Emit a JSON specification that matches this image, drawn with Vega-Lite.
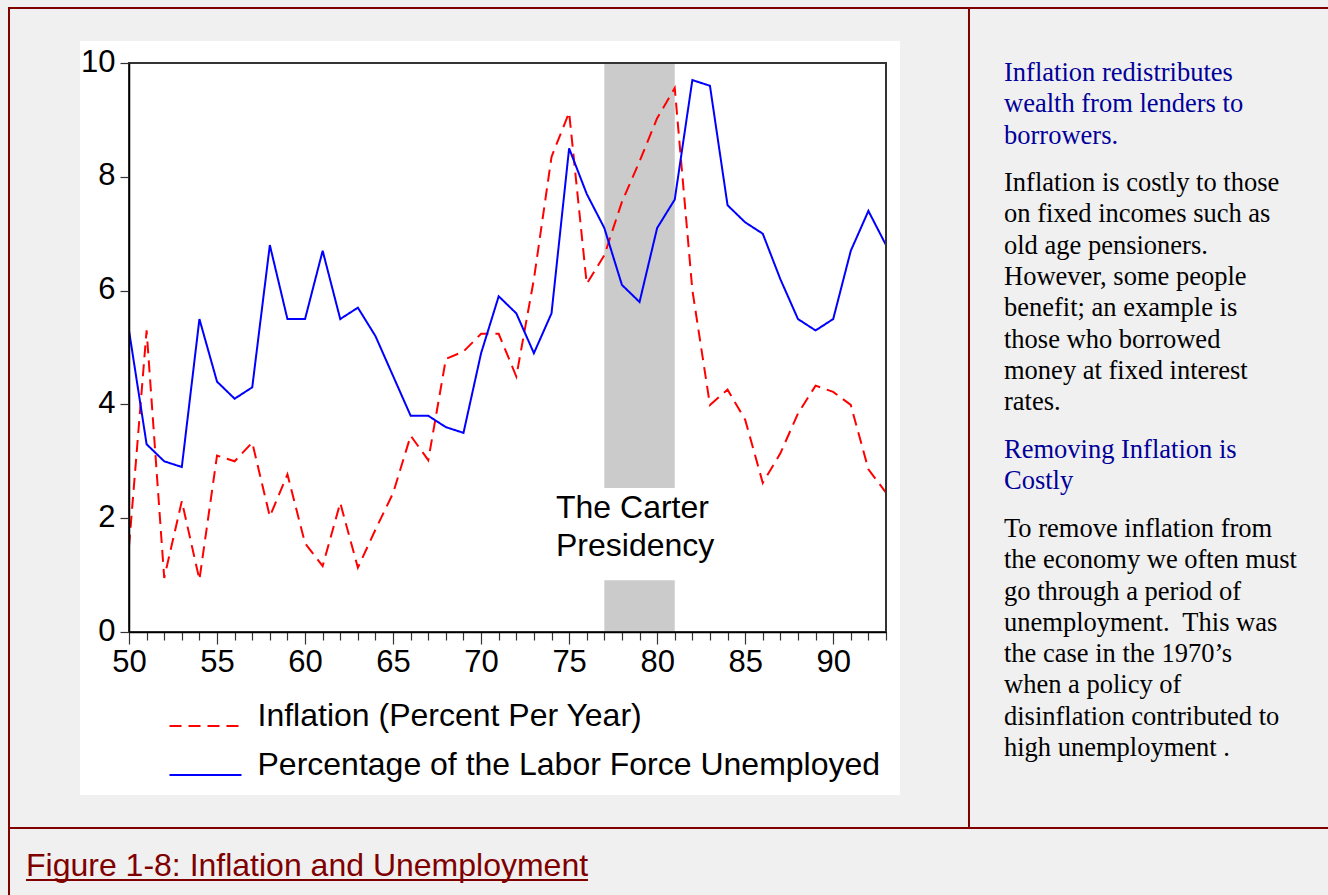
{
  "$schema": "https://vega.github.io/schema/vega-lite/v6.json",
  "width": 757,
  "height": 569,
  "autosize": {"type": "none"},
  "padding": {"left": 129, "top": 63, "right": 442, "bottom": 263},
  "background": "#f0f0f0",
  "config": {"view": {"stroke": null}},
  "resolve": {"axis": {"x": "independent", "y": "independent"}},
  "datasets": {
    "series": [
      {"year": 1950, "series": "Inflation (Percent Per Year)", "value": 1.5},
      {"year": 1951, "series": "Inflation (Percent Per Year)", "value": 5.3},
      {"year": 1952, "series": "Inflation (Percent Per Year)", "value": 0.95},
      {"year": 1953, "series": "Inflation (Percent Per Year)", "value": 2.3},
      {"year": 1954, "series": "Inflation (Percent Per Year)", "value": 0.92},
      {"year": 1955, "series": "Inflation (Percent Per Year)", "value": 3.1},
      {"year": 1956, "series": "Inflation (Percent Per Year)", "value": 3.0},
      {"year": 1957, "series": "Inflation (Percent Per Year)", "value": 3.33},
      {"year": 1958, "series": "Inflation (Percent Per Year)", "value": 2.03},
      {"year": 1959, "series": "Inflation (Percent Per Year)", "value": 2.77},
      {"year": 1960, "series": "Inflation (Percent Per Year)", "value": 1.56},
      {"year": 1961, "series": "Inflation (Percent Per Year)", "value": 1.16},
      {"year": 1962, "series": "Inflation (Percent Per Year)", "value": 2.27},
      {"year": 1963, "series": "Inflation (Percent Per Year)", "value": 1.13},
      {"year": 1964, "series": "Inflation (Percent Per Year)", "value": 1.8},
      {"year": 1965, "series": "Inflation (Percent Per Year)", "value": 2.44},
      {"year": 1966, "series": "Inflation (Percent Per Year)", "value": 3.45},
      {"year": 1967, "series": "Inflation (Percent Per Year)", "value": 3.02},
      {"year": 1968, "series": "Inflation (Percent Per Year)", "value": 4.8},
      {"year": 1969, "series": "Inflation (Percent Per Year)", "value": 4.93},
      {"year": 1970, "series": "Inflation (Percent Per Year)", "value": 5.24},
      {"year": 1971, "series": "Inflation (Percent Per Year)", "value": 5.24},
      {"year": 1972, "series": "Inflation (Percent Per Year)", "value": 4.49},
      {"year": 1973, "series": "Inflation (Percent Per Year)", "value": 6.2},
      {"year": 1974, "series": "Inflation (Percent Per Year)", "value": 8.35},
      {"year": 1975, "series": "Inflation (Percent Per Year)", "value": 9.13},
      {"year": 1976, "series": "Inflation (Percent Per Year)", "value": 6.12},
      {"year": 1977, "series": "Inflation (Percent Per Year)", "value": 6.62},
      {"year": 1978, "series": "Inflation (Percent Per Year)", "value": 7.56},
      {"year": 1979, "series": "Inflation (Percent Per Year)", "value": 8.27},
      {"year": 1980, "series": "Inflation (Percent Per Year)", "value": 9.03},
      {"year": 1981, "series": "Inflation (Percent Per Year)", "value": 9.56},
      {"year": 1982, "series": "Inflation (Percent Per Year)", "value": 6.01},
      {"year": 1983, "series": "Inflation (Percent Per Year)", "value": 3.99},
      {"year": 1984, "series": "Inflation (Percent Per Year)", "value": 4.26},
      {"year": 1985, "series": "Inflation (Percent Per Year)", "value": 3.73},
      {"year": 1986, "series": "Inflation (Percent Per Year)", "value": 2.62},
      {"year": 1987, "series": "Inflation (Percent Per Year)", "value": 3.14},
      {"year": 1988, "series": "Inflation (Percent Per Year)", "value": 3.84},
      {"year": 1989, "series": "Inflation (Percent Per Year)", "value": 4.33},
      {"year": 1990, "series": "Inflation (Percent Per Year)", "value": 4.22},
      {"year": 1991, "series": "Inflation (Percent Per Year)", "value": 3.99},
      {"year": 1992, "series": "Inflation (Percent Per Year)", "value": 2.86},
      {"year": 1993, "series": "Inflation (Percent Per Year)", "value": 2.45},
      {"year": 1950, "series": "Percentage of the Labor Force Unemployed", "value": 5.3},
      {"year": 1951, "series": "Percentage of the Labor Force Unemployed", "value": 3.3},
      {"year": 1952, "series": "Percentage of the Labor Force Unemployed", "value": 3.0},
      {"year": 1953, "series": "Percentage of the Labor Force Unemployed", "value": 2.9},
      {"year": 1954, "series": "Percentage of the Labor Force Unemployed", "value": 5.5},
      {"year": 1955, "series": "Percentage of the Labor Force Unemployed", "value": 4.4},
      {"year": 1956, "series": "Percentage of the Labor Force Unemployed", "value": 4.1},
      {"year": 1957, "series": "Percentage of the Labor Force Unemployed", "value": 4.3},
      {"year": 1958, "series": "Percentage of the Labor Force Unemployed", "value": 6.8},
      {"year": 1959, "series": "Percentage of the Labor Force Unemployed", "value": 5.5},
      {"year": 1960, "series": "Percentage of the Labor Force Unemployed", "value": 5.5},
      {"year": 1961, "series": "Percentage of the Labor Force Unemployed", "value": 6.7},
      {"year": 1962, "series": "Percentage of the Labor Force Unemployed", "value": 5.5},
      {"year": 1963, "series": "Percentage of the Labor Force Unemployed", "value": 5.7},
      {"year": 1964, "series": "Percentage of the Labor Force Unemployed", "value": 5.2},
      {"year": 1965, "series": "Percentage of the Labor Force Unemployed", "value": 4.5},
      {"year": 1966, "series": "Percentage of the Labor Force Unemployed", "value": 3.8},
      {"year": 1967, "series": "Percentage of the Labor Force Unemployed", "value": 3.8},
      {"year": 1968, "series": "Percentage of the Labor Force Unemployed", "value": 3.6},
      {"year": 1969, "series": "Percentage of the Labor Force Unemployed", "value": 3.5},
      {"year": 1970, "series": "Percentage of the Labor Force Unemployed", "value": 4.9},
      {"year": 1971, "series": "Percentage of the Labor Force Unemployed", "value": 5.9},
      {"year": 1972, "series": "Percentage of the Labor Force Unemployed", "value": 5.6},
      {"year": 1973, "series": "Percentage of the Labor Force Unemployed", "value": 4.9},
      {"year": 1974, "series": "Percentage of the Labor Force Unemployed", "value": 5.6},
      {"year": 1975, "series": "Percentage of the Labor Force Unemployed", "value": 8.5},
      {"year": 1976, "series": "Percentage of the Labor Force Unemployed", "value": 7.7},
      {"year": 1977, "series": "Percentage of the Labor Force Unemployed", "value": 7.1},
      {"year": 1978, "series": "Percentage of the Labor Force Unemployed", "value": 6.1},
      {"year": 1979, "series": "Percentage of the Labor Force Unemployed", "value": 5.8},
      {"year": 1980, "series": "Percentage of the Labor Force Unemployed", "value": 7.1},
      {"year": 1981, "series": "Percentage of the Labor Force Unemployed", "value": 7.6},
      {"year": 1982, "series": "Percentage of the Labor Force Unemployed", "value": 9.7},
      {"year": 1983, "series": "Percentage of the Labor Force Unemployed", "value": 9.6},
      {"year": 1984, "series": "Percentage of the Labor Force Unemployed", "value": 7.5},
      {"year": 1985, "series": "Percentage of the Labor Force Unemployed", "value": 7.2},
      {"year": 1986, "series": "Percentage of the Labor Force Unemployed", "value": 7.0},
      {"year": 1987, "series": "Percentage of the Labor Force Unemployed", "value": 6.2},
      {"year": 1988, "series": "Percentage of the Labor Force Unemployed", "value": 5.5},
      {"year": 1989, "series": "Percentage of the Labor Force Unemployed", "value": 5.3},
      {"year": 1990, "series": "Percentage of the Labor Force Unemployed", "value": 5.5},
      {"year": 1991, "series": "Percentage of the Labor Force Unemployed", "value": 6.7},
      {"year": 1992, "series": "Percentage of the Labor Force Unemployed", "value": 7.4},
      {"year": 1993, "series": "Percentage of the Labor Force Unemployed", "value": 6.8}
    ],
    "terms": [
      {"start": 1977, "end": 1981, "president": "Carter"}
    ]
  },
  "layer": [
    {
      "data": {"values": [{}]},
      "mark": {"type": "rule", "color": "#800000", "strokeWidth": 2, "strokeCap": "square"},
      "encoding": {
        "x": {"datum": 1943.184, "type": "quantitative", "axis": null},
        "x2": {"datum": 2040},
        "y": {"datum": 10.9666, "type": "quantitative", "axis": null}
      }
    },
    {
      "data": {"values": [{}]},
      "mark": {"type": "rule", "color": "#800000", "strokeWidth": 2, "strokeCap": "square"},
      "encoding": {
        "x": {"datum": 1943.184, "type": "quantitative", "axis": null},
        "y": {"datum": 10.9666, "type": "quantitative", "axis": null},
        "y2": {"datum": -6}
      }
    },
    {
      "data": {"values": [{}]},
      "mark": {"type": "rule", "color": "#800000", "strokeWidth": 2, "strokeCap": "square"},
      "encoding": {
        "x": {"datum": 1943.184, "type": "quantitative", "axis": null},
        "x2": {"datum": 2040},
        "y": {"datum": -3.4447, "type": "quantitative", "axis": null}
      }
    },
    {
      "data": {"values": [{}]},
      "mark": {"type": "rule", "color": "#800000", "strokeWidth": 2, "strokeCap": "square"},
      "encoding": {
        "x": {"datum": 1997.714, "type": "quantitative", "axis": null},
        "y": {"datum": 10.9666, "type": "quantitative", "axis": null},
        "y2": {"datum": -3.4447}
      }
    },
    {
      "data": {"values": [{}]},
      "mark": {"type": "rect", "color": "#ffffff"},
      "encoding": {
        "x": {"datum": 1947.217, "type": "quantitative", "axis": null},
        "x2": {"datum": 1993.795},
        "y": {"datum": 10.3866, "type": "quantitative", "axis": null},
        "y2": {"datum": -2.8647}
      }
    },
    {
      "data": {"name": "terms"},
      "mark": {"type": "rect", "color": "#cbcbcb"},
      "encoding": {
        "x": {"field": "start", "type": "quantitative", "axis": null},
        "x2": {"field": "end"},
        "y": {"datum": 10, "type": "quantitative", "axis": null},
        "y2": {"datum": 2.53}
      }
    },
    {
      "data": {"name": "terms"},
      "mark": {"type": "rect", "color": "#cbcbcb"},
      "encoding": {
        "x": {"field": "start", "type": "quantitative", "axis": null},
        "x2": {"field": "end"},
        "y": {"datum": 0.91, "type": "quantitative", "axis": null},
        "y2": {"datum": 0}
      }
    },
    {
      "data": {"name": "series"},
      "mark": {"type": "line", "strokeWidth": 2},
      "encoding": {
        "x": {
          "field": "year",
          "type": "quantitative",
          "scale": {"domain": [1950, 1993], "nice": false, "zero": false},
          "axis": {
            "title": null,
            "grid": false,
            "values": [1950,1951,1952,1953,1954,1955,1956,1957,1958,1959,1960,1961,1962,1963,1964,1965,1966,1967,1968,1969,1970,1971,1972,1973,1974,1975,1976,1977,1978,1979,1980,1981,1982,1983,1984,1985,1986,1987,1988,1989,1990,1991,1992,1993],
            "labelExpr": "datum.value % 5 === 0 ? toString(datum.value - 1900) : ''",
            "tickSize": {"condition": {"test": "datum.value % 5 === 0", "value": 12}, "value": 8},
            "labelPadding": 3,
            "labelFont": "Liberation Sans",
            "labelFontSize": 31,
            "labelColor": "#000000",
            "labelOverlap": false,
            "labelFlush": false,
            "labelBound": false,
            "domainColor": "#000000",
            "domainWidth": 1.5,
            "tickColor": "#333333",
            "tickWidth": 1.2,
            "zindex": 2
          }
        },
        "y": {
          "field": "value",
          "type": "quantitative",
          "scale": {"domain": [0, 10], "nice": false, "zero": false},
          "axis": {
            "title": null,
            "grid": false,
            "values": [0, 2, 4, 6, 8, 10],
            "tickSize": 9,
            "labelPadding": 5,
            "labelOffset": -1,
            "labelFont": "Liberation Sans",
            "labelFontSize": 31,
            "labelColor": "#000000",
            "labelOverlap": false,
            "labelFlush": false,
            "labelBound": false,
            "domainColor": "#000000",
            "domainWidth": 1.5,
            "tickColor": "#333333",
            "tickWidth": 1.2,
            "zindex": 2
          }
        },
        "color": {
          "field": "series",
          "type": "nominal",
          "scale": {"domain": ["Inflation (Percent Per Year)", "Percentage of the Labor Force Unemployed"], "range": ["#ff0000", "#0000ff"]},
          "legend": {"title": null, "orient": "none", "legendX": 60.5, "legendY": 647, "direction": "vertical", "symbolType": "M-36,0H36", "symbolSize": 4, "symbolStrokeWidth": 2, "labelFont": "Liberation Sans", "labelFontSize": 32, "labelColor": "#000000", "labelOffset": 36, "labelLimit": 0, "rowPadding": 17, "labelBaseline": "alphabetic", "padding": 0}
        },
        "strokeDash": {
          "field": "series",
          "type": "nominal",
          "scale": {"domain": ["Inflation (Percent Per Year)", "Percentage of the Labor Force Unemployed"], "range": [[12, 7], [1, 0]]},
          "legend": {"title": null, "orient": "none", "legendX": 60.5, "legendY": 647, "direction": "vertical", "symbolType": "M-36,0H36", "symbolSize": 4, "symbolStrokeWidth": 2, "labelFont": "Liberation Sans", "labelFontSize": 32, "labelColor": "#000000", "labelOffset": 36, "labelLimit": 0, "rowPadding": 17, "labelBaseline": "alphabetic", "padding": 0}
        }
      }
    },
    {
      "data": {"values": [{}]},
      "mark": {"type": "rect", "filled": false, "stroke": "#333333", "strokeWidth": 2},
      "encoding": {
        "x": {"datum": 1950, "type": "quantitative", "axis": null},
        "x2": {"datum": 1993},
        "y": {"datum": 0, "type": "quantitative", "axis": null},
        "y2": {"datum": 10}
      }
    },
    {
      "data": {"values": [{}]},
      "mark": {"type": "text", "text": ["The Carter", "Presidency"], "align": "left", "baseline": "alphabetic", "font": "Liberation Sans", "fontSize": 32, "lineHeight": 38, "color": "#000000"},
      "encoding": {
        "x": {"datum": 1974.255, "type": "quantitative", "axis": null},
        "y": {"datum": 2.004, "type": "quantitative", "axis": null}
      }
    },
    {
      "data": {"values": [{}]},
      "mark": {"type": "text", "text": ["Inflation redistributes", "wealth from lenders to", "borrowers."], "align": "left", "baseline": "alphabetic", "font": "Liberation Serif", "fontSize": 26.5, "lineHeight": 31.3, "color": "#000099"},
      "encoding": {
        "x": {"datum": 1999.703, "type": "quantitative", "axis": null},
        "y": {"datum": 9.684, "type": "quantitative", "axis": null}
      }
    },
    {
      "data": {"values": [{}]},
      "mark": {"type": "text", "text": ["Inflation is costly to those", "on fixed incomes such as", "old age pensioners.", "However, some people", "benefit; an example is", "those who borrowed", "money at fixed interest", "rates."], "align": "left", "baseline": "alphabetic", "font": "Liberation Serif", "fontSize": 26.5, "lineHeight": 31.3, "color": "#000000"},
      "encoding": {
        "x": {"datum": 1999.703, "type": "quantitative", "axis": null},
        "y": {"datum": 7.75, "type": "quantitative", "axis": null}
      }
    },
    {
      "data": {"values": [{}]},
      "mark": {"type": "text", "text": ["Removing Inflation is", "Costly"], "align": "left", "baseline": "alphabetic", "font": "Liberation Serif", "fontSize": 26.5, "lineHeight": 31.3, "color": "#000099"},
      "encoding": {
        "x": {"datum": 1999.703, "type": "quantitative", "axis": null},
        "y": {"datum": 3.058, "type": "quantitative", "axis": null}
      }
    },
    {
      "data": {"values": [{}]},
      "mark": {"type": "text", "text": ["To remove inflation from", "the economy we often must", "go through a period of", "unemployment.\u00a0 This was", "the case in the 1970’s", "when a policy of", "disinflation contributed to", "high unemployment ."], "align": "left", "baseline": "alphabetic", "font": "Liberation Serif", "fontSize": 26.5, "lineHeight": 31.3, "color": "#000000"},
      "encoding": {
        "x": {"datum": 1999.703, "type": "quantitative", "axis": null},
        "y": {"datum": 1.67, "type": "quantitative", "axis": null}
      }
    },
    {
      "data": {"values": [{}]},
      "mark": {"type": "text", "text": "Figure 1-8: Inflation and Unemployment", "align": "left", "baseline": "alphabetic", "font": "Liberation Sans", "fontSize": 32, "color": "#800000"},
      "encoding": {
        "x": {"datum": 1944.15, "type": "quantitative", "axis": null},
        "y": {"datum": -4.288, "type": "quantitative", "axis": null}
      }
    },
    {
      "data": {"values": [{}]},
      "mark": {"type": "rule", "color": "#800000", "strokeWidth": 2},
      "encoding": {
        "x": {"datum": 1944.15, "type": "quantitative", "axis": null},
        "x2": {"datum": 1976.07},
        "y": {"datum": -4.36, "type": "quantitative", "axis": null}
      }
    }
  ]
}
